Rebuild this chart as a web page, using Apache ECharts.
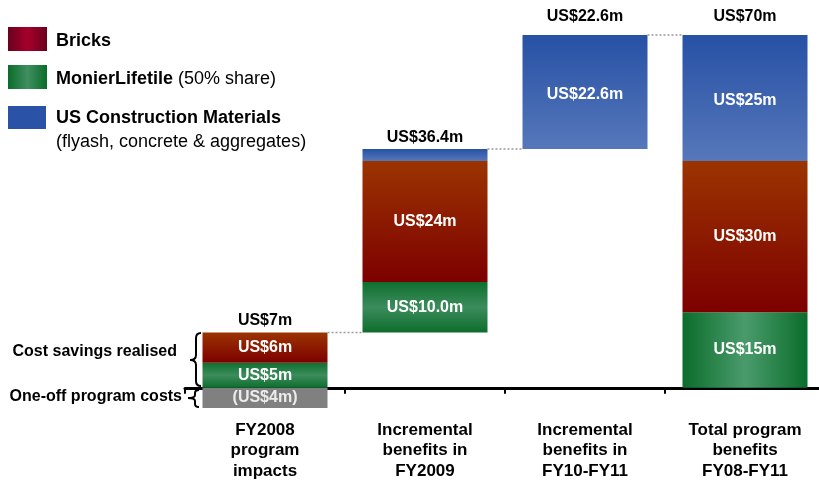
<!DOCTYPE html>
<html>
<head>
<meta charset="utf-8">
<script src="https://cdn.jsdelivr.net/npm/echarts@6/dist/echarts.min.js"></script>
<style>
  html, body { margin: 0; padding: 0; background: #fff; }
  #chart { width: 819px; height: 481px; }
</style>
</head>
<body>
<div id="chart"></div>
<script>
// Program benefits waterfall, US$ millions
const categories = [
  'FY2008\nprogram\nimpacts',
  'Incremental\nbenefits in\nFY2009',
  'Incremental\nbenefits in\nFY10-FY11',
  'Total program\nbenefits\nFY08-FY11'
];
const monier   = [5, 10, null, 15];     // MonierLifetile (50% share)
const monierDp = [0, 1, 0, 0];          // decimals shown on each Monier label
const bricks   = [6, 24, null, 30];
const usMat    = [null, 2.4, 22.6, 25]; // US Construction Materials
const oneOff   = [-4, null, null, null];// one-off program costs
const isTotal  = [false, false, false, true];

const FONT = 'Liberation Sans, Arial, Helvetica, sans-serif';
const n = v => (v == null ? 0 : v);

// Positive height of each column and the net value stated above it
const posSum = categories.map((_, i) => n(monier[i]) + n(bricks[i]) + n(usMat[i]));
const netSum = categories.map((_, i) => Number((posSum[i] + n(oneOff[i])).toFixed(1)));

// Floating base: each incremental column starts where the previous one ended
const base = [];
let running = 0;
categories.forEach((_, i) => {
  if (isTotal[i]) { base.push(0); }
  else { base.push(running); running += posSum[i]; }
});
const tops = categories.map((_, i) => Number((base[i] + posSum[i]).toFixed(1)));

const money = (v, dp) => {
  const s = 'US$' + Math.abs(v).toFixed(dp || 0) + 'm';
  return v < 0 ? '(' + s + ')' : s;
};

const red = {
  type: 'linear', x: 0, y: 0, x2: 0, y2: 1,
  colorStops: [{ offset: 0, color: '#9b3400' }, { offset: 1, color: '#7d0000' }]
};
const blue = {
  type: 'linear', x: 0, y: 0, x2: 0, y2: 1,
  colorStops: [{ offset: 0, color: '#2751a5' }, { offset: 1, color: '#5677ba' }]
};
const greenV = {
  type: 'linear', x: 0, y: 0, x2: 0, y2: 1,
  colorStops: [{ offset: 0, color: '#0f6f2e' }, { offset: 0.5, color: '#3c8c5c' }, { offset: 1, color: '#0d6d2c' }]
};
const greenH = {
  type: 'linear', x: 0, y: 0, x2: 1, y2: 0,
  colorStops: [{ offset: 0, color: '#0b6d2b' }, { offset: 0.5, color: '#4a9b6c' }, { offset: 1, color: '#0b6d2b' }]
};

const inLabel = {
  show: true, position: 'inside', color: '#fff',
  fontFamily: FONT, fontWeight: 'bold', fontSize: 16
};

const BAR_W = 125;

// Curly brace built from straight and quadratic segments
function brace(xr, xm, xt, y0, ym, y1, r) {
  const st = { stroke: '#000', lineWidth: 2, fill: null };
  return [
    { type: 'bezierCurve', shape: { x1: xr, y1: y0, cpx1: xm, cpy1: y0, x2: xm, y2: y0 + r }, style: st },
    { type: 'line', shape: { x1: xm, y1: y0 + r, x2: xm, y2: ym - r }, style: st },
    { type: 'bezierCurve', shape: { x1: xm, y1: ym - r, cpx1: xm, cpy1: ym, x2: xt, y2: ym }, style: st },
    { type: 'bezierCurve', shape: { x1: xt, y1: ym, cpx1: xm, cpy1: ym, x2: xm, y2: ym + r }, style: st },
    { type: 'line', shape: { x1: xm, y1: ym + r, x2: xm, y2: y1 - r }, style: st },
    { type: 'bezierCurve', shape: { x1: xm, y1: y1 - r, cpx1: xm, cpy1: y1, x2: xr, y2: y1 }, style: st }
  ];
}

const option = {
  animation: false,
  backgroundColor: '#fff',
  grid: { left: 185, top: 35, width: 640, height: 373, outerBoundsMode: 'none', containLabel: false },
  xAxis: {
    type: 'category',
    data: categories,
    axisLine: { onZero: true, lineStyle: { color: '#000', width: 3 } },
    axisTick: { show: true, length: 6, lineStyle: { color: '#000', width: 2 } },
    axisLabel: {
      margin: 12, color: '#000', fontFamily: FONT, fontWeight: 'bold',
      fontSize: 17, lineHeight: 20.5, interval: 0
    },
    splitLine: { show: false }
  },
  yAxis: {
    type: 'value', min: -4, max: 70, show: false, splitLine: { show: false }
  },
  series: [
    {
      name: 'base', type: 'bar', stack: 'w', barWidth: BAR_W, silent: true,
      itemStyle: { color: 'transparent' }, data: base
    },
    {
      name: 'One-off program costs', type: 'bar', stack: 'w', barWidth: BAR_W,
      itemStyle: { color: '#808080' },
      label: Object.assign({}, inLabel, { color: '#ececec', formatter: p => money(p.value) }),
      data: oneOff
    },
    {
      name: 'MonierLifetile', type: 'bar', stack: 'w', barWidth: BAR_W,
      label: Object.assign({}, inLabel, { formatter: p => money(p.value, monierDp[p.dataIndex]) }),
      data: monier.map((v, i) => ({ value: v, itemStyle: { color: isTotal[i] ? greenH : greenV } }))
    },
    {
      name: 'Bricks', type: 'bar', stack: 'w', barWidth: BAR_W,
      itemStyle: { color: red },
      label: Object.assign({}, inLabel, { formatter: p => money(p.value) }),
      data: bricks
    },
    {
      name: 'US Construction Materials', type: 'bar', stack: 'w', barWidth: BAR_W,
      itemStyle: { color: blue },
      label: Object.assign({}, inLabel, {
        offset: [0, 3],
        formatter: p => (p.value >= 5 ? money(p.value, p.value % 1 ? 1 : 0) : '')
      }),
      data: usMat
    },
    {
      // dotted connectors between consecutive columns
      name: 'connectors', type: 'custom', silent: true, z: 5,
      data: tops.slice(0, -1).map((t, i) => [i, t]),
      renderItem: (params, api) => {
        const a = api.coord([api.value(0), api.value(1)]);
        const b = api.coord([api.value(0) + 1, api.value(1)]);
        return {
          type: 'line',
          shape: { x1: a[0] + BAR_W / 2, y1: a[1], x2: b[0] - BAR_W / 2, y2: b[1] },
          style: { stroke: '#9a9a9a', lineWidth: 1.5, lineDash: [2, 2] }
        };
      }
    },
    {
      // net value above each column
      name: 'totals', type: 'scatter', silent: true, symbolSize: 1,
      itemStyle: { color: 'transparent', opacity: 1 },
      label: {
        show: true, position: 'top', color: '#000', opacity: 1, fontFamily: FONT,
        fontWeight: 'bold', fontSize: 16,
        formatter: p => 'US$' + netSum[p.dataIndex] + 'm'
      },
      data: tops.map((t, i) => ({
        value: [i, t],
        label: { distance: t >= 60 ? 10 : 3 }
      }))
    }
  ],
  graphic: [
    // legend swatches
    { type: 'rect', shape: { x: 8, y: 27, width: 39, height: 24 },
      style: { fill: { type: 'linear', x: 0, y: 0, x2: 1, y2: 0,
        colorStops: [{ offset: 0, color: '#6a0020' }, { offset: 0.5, color: '#a6002a' }, { offset: 1, color: '#6a0020' }] } } },
    { type: 'rect', shape: { x: 8, y: 65, width: 39, height: 24 },
      style: { fill: { type: 'linear', x: 0, y: 0, x2: 1, y2: 0,
        colorStops: [{ offset: 0, color: '#0a6c2a' }, { offset: 0.5, color: '#3f8f60' }, { offset: 1, color: '#0a6c2a' }] } } },
    { type: 'rect', shape: { x: 8, y: 106, width: 38, height: 23 }, style: { fill: '#2a52a6' } },
    // legend texts
    { type: 'text', x: 56, y: 41, style: {
        text: 'Bricks', fill: '#000', font: 'bold 18px ' + FONT, verticalAlign: 'middle' } },
    { type: 'text', x: 56, y: 79, style: {
        text: '{b|MonierLifetile}{r| (50% share)}', verticalAlign: 'middle',
        rich: {
          b: { fill: '#000', fontFamily: FONT, fontWeight: 'bold', fontSize: 18 },
          r: { fill: '#000', fontFamily: FONT, fontSize: 18 }
        } } },
    { type: 'text', x: 56, y: 118, style: {
        text: 'US Construction Materials', fill: '#000', font: 'bold 18px ' + FONT, verticalAlign: 'middle' } },
    { type: 'text', x: 56, y: 142, style: {
        text: '(flyash, concrete & aggregates)', fill: '#000', font: '18px ' + FONT, verticalAlign: 'middle' } },
    // side annotations
    { type: 'text', x: 177, y: 352, style: {
        text: 'Cost savings realised', fill: '#000', font: 'bold 16px ' + FONT,
        align: 'right', verticalAlign: 'middle' } },
    { type: 'text', x: 182, y: 397, style: {
        text: 'One-off program costs', fill: '#000', font: 'bold 16px ' + FONT,
        align: 'right', verticalAlign: 'middle' } }
  ]
    .concat(brace(201, 196, 190, 333, 360, 386, 5))
    .concat(brace(199, 195, 188, 390, 398, 407, 3))
};

const chart = echarts.init(document.getElementById('chart'), null, { renderer: 'canvas' });
chart.setOption(option);
</script>
</body>
</html>
